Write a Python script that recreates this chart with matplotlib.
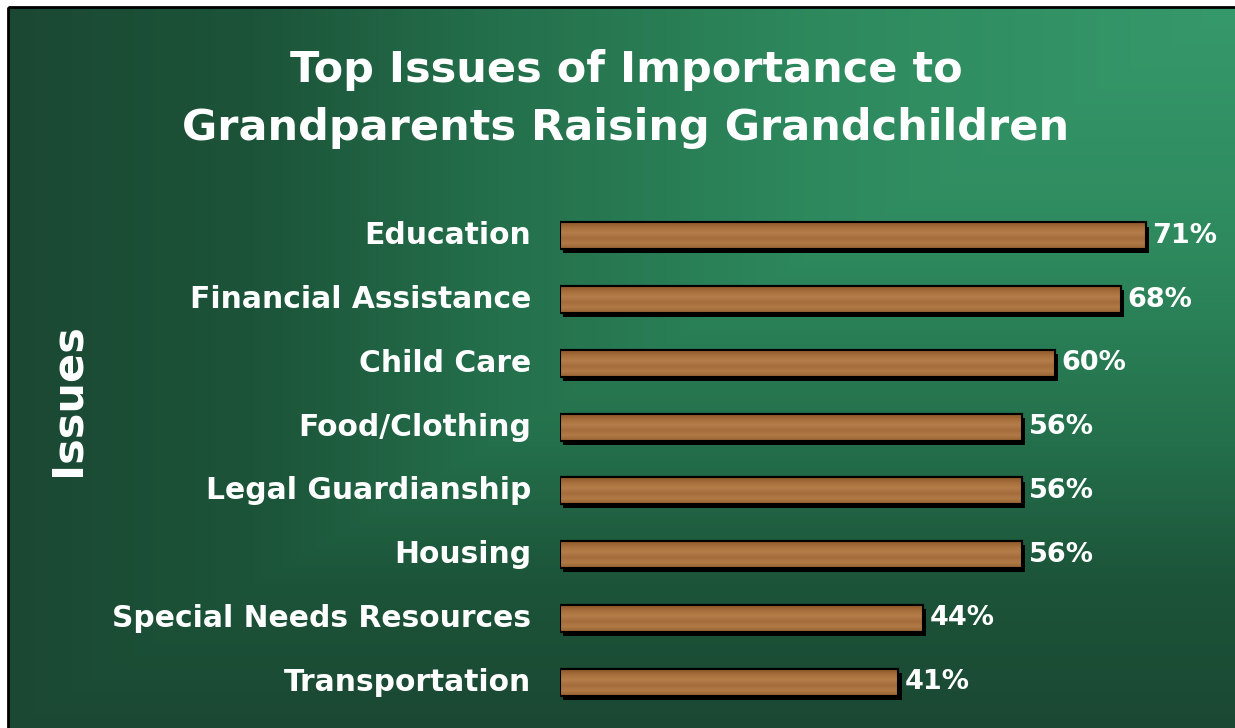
import numpy as np
import matplotlib.pyplot as plt
import matplotlib.patheffects as pe
from matplotlib.colors import LinearSegmentedColormap
from matplotlib.patches import Rectangle

# chart data
issues = ["Education", "Financial Assistance", "Child Care", "Food/Clothing",
          "Legal Guardianship", "Housing", "Special Needs Resources", "Transportation"]
percent = [71, 68, 60, 56, 56, 56, 44, 41]

title = "Top Issues of Importance to\nGrandparents Raising Grandchildren"

W, H = 1235, 728
fig = plt.figure(figsize=(W / 100, H / 100), dpi=100)
fig.patch.set_facecolor("white")

# green background, light in the top right corner, dark elsewhere
bg = fig.add_axes([0, 0, 1, 1])
bg.set_xlim(0, W)
bg.set_ylim(H, 0)
bg.axis("off")
xx, yy = np.meshgrid(np.linspace(0, W, 400), np.linspace(0, H, 240))
t = np.maximum((W - xx) / W, yy / H)
green = LinearSegmentedColormap.from_list(
    "green", [(0, "#36996b"), (0.33, "#2e8a5e"), (0.6, "#24704c"),
              (0.8, "#1c5439"), (1, "#1b4833")])
bg.imshow(t, cmap=green, extent=[8, W + 2, H + 2, 7], aspect="auto", zorder=0,
          interpolation="bilinear")
bg.add_patch(Rectangle((8, 7), W, H, fill=False, edgecolor="black", lw=2, zorder=1))

bg.text(626, 99, title, color="white", fontsize=31, fontweight="bold",
        ha="center", va="center", linespacing=1.48)
bg.text(68, 400, "Issues", color="white", fontsize=31, fontweight="bold",
        rotation=90, ha="center", va="center")

# bar axes: 0% at x=560, 8.25 px per percent
left = 560
ax = fig.add_axes([left / W, 1 - 714 / H, (W - left) / W, 510 / H])
ax.set_facecolor("none")
ax.set_xlim(0, (W - left) / 8.25)
ax.set_ylim(7.5, -0.5)
ax.axis("off")

pos = np.arange(len(issues))
hgt = 0.42
shadow = [pe.SimplePatchShadow(offset=(2.5, -3), shadow_rgbFace="black", alpha=1.0),
          pe.Normal()]
bars = ax.barh(pos, percent, height=hgt, color="#a46c3a", edgecolor="black",
               lw=1.5, zorder=2, path_effects=shadow)

# wood-ish shading inside each bar
wood = LinearSegmentedColormap.from_list(
    "wood", ["#8c5629", "#a86f3c", "#b37d4a", "#a56c3a", "#b07a47", "#96612f"])
grad = np.linspace(0, 1, 50).reshape(-1, 1)
for b, p, v in zip(bars, pos, percent):
    im = ax.imshow(grad, cmap=wood, extent=[0, v, p + hgt / 2, p - hgt / 2],
                   aspect="auto", zorder=3)
    im.set_clip_path(b)
    ax.add_patch(Rectangle((0, p - hgt / 2), v, hgt, fill=False,
                           edgecolor="black", lw=1.5, zorder=4))
    ax.text(v + 0.8, p, f"{v}%", color="white", fontsize=19.5, fontweight="bold",
            va="center", ha="left", zorder=5)

for p, name in zip(pos, issues):
    ax.text(-3.5, p, name, color="white", fontsize=21.4, fontweight="bold",
            ha="right", va="center")

plt.savefig("out.png", dpi=100, facecolor=fig.get_facecolor())
